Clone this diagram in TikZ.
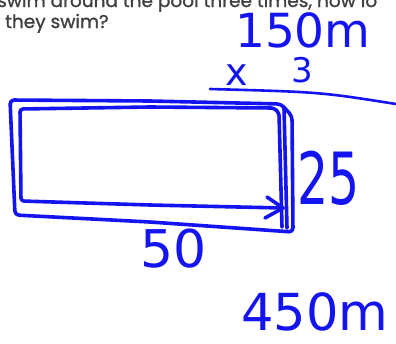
\documentclass[tikz,border=0pt]{standalone}
\usepackage{fontspec}
\setmainfont{DejaVu Sans}
\newfontfamily\printfont[FakeBold=1.2]{Poppins}
\definecolor{ink}{RGB}{20,20,240}
\definecolor{printgray}{RGB}{65,65,65}
\begin{document}
\begin{tikzpicture}[x=1pt,y=-1pt,
  pen/.style={draw=ink,line width=3.6pt,line cap=round,line join=round},
  thinpen/.style={draw=ink,line width=2.6pt,line cap=round,line join=round},
  hand/.style={text=ink,inner sep=0pt,anchor=base west},
  printed/.style={text=printgray,inner sep=0pt,anchor=base west,font=\printfont\fontsize{18.5}{20}\selectfont}]
\useasboundingbox (0,0) rectangle (396,343);
\clip (0,0) rectangle (396,343);
\fill[white] (0,0) rectangle (396,343);
% printed question
\node[printed] (q1) at (-3,7) {swim around the pool three times, how lo};
\node[printed] (q2) at (5,28) {they swim?};
% working
\node[hand,font=\fontsize{47}{47}\selectfont] (t150) at (235,47) {150m};
\node[hand,font=\fontsize{38}{38}\selectfont] (tx) at (225,85) {x};
\node[hand,font=\fontsize{34}{34}\selectfont] (t3) at (291,82) {3};
\draw[thinpen] (210,89) .. controls (320,92) .. (396,104);
% pool
\draw[pen,rounded corners=4pt] (10,100) -- (150,101) -- (281,104) -- (292,116) -- (293,232) -- (150,222) -- (15,215) -- cycle;
\draw[pen] (284,108) -- (287,228);
\draw[pen,rounded corners=3pt] (282,227) -- (279,113) -- (274,108) -- (150,107) -- (20,109) -- (21,201) -- (150,205) -- (283,208);
\draw[pen] (267,197) -- (283,208) -- (265,218);
% dimensions
\node[hand,font=\fontsize{72}{72}\selectfont,xscale=0.68] (t25) at (297,204) {25};
\node[hand,font=\fontsize{52}{52}\selectfont] (t50) at (140,267) {50};
\node[hand,font=\fontsize{51}{51}\selectfont] (t450) at (241,330) {450m};
\end{tikzpicture}
\end{document}
